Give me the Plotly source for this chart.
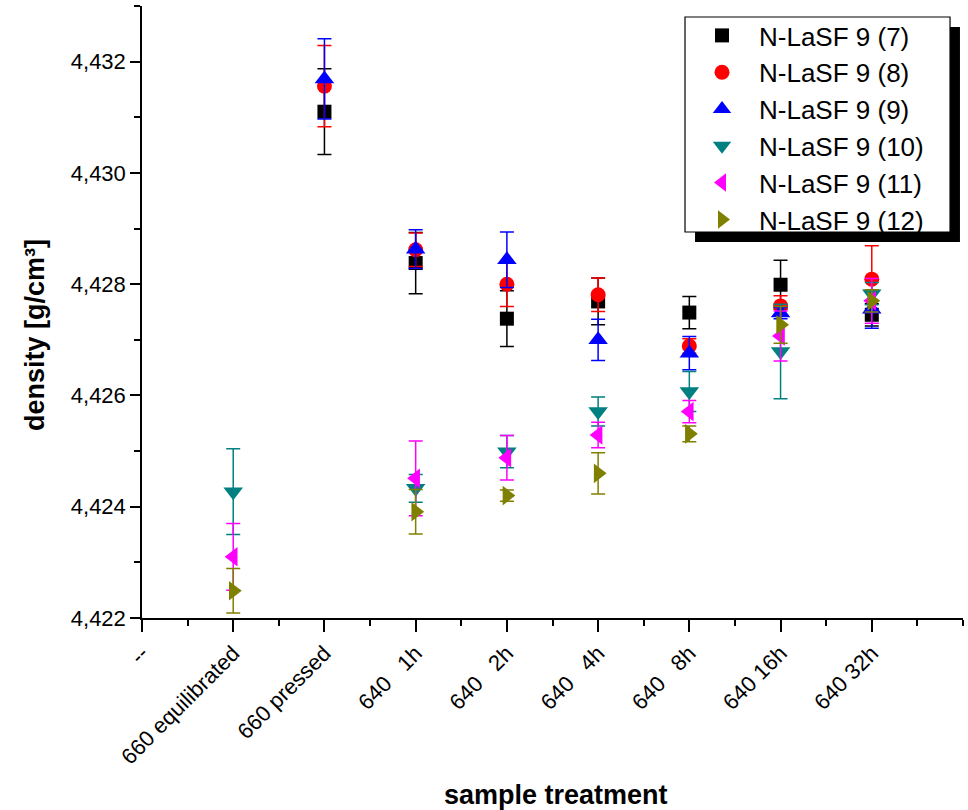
import plotly.graph_objects as go

categories = ["--", "660 equilibrated", "660 pressed", "640\u00a0\u00a0\u00a01h", "640\u00a0\u00a0\u00a02h",
              "640\u00a0\u00a0\u00a04h", "640\u00a0\u00a0\u00a08h", "640 16h", "640 32h"]
x_pos = [1, 2, 3, 4, 5, 6, 7, 8]

names = ["N-LaSF 9 (7)", "N-LaSF 9 (8)", "N-LaSF 9 (9)", "N-LaSF 9 (10)", "N-LaSF 9 (11)", "N-LaSF 9 (12)"]

s7 = [None, 4.43110, 4.42838, 4.42738, 4.42769, 4.42749, 4.42799, 4.42745]
e7 = [None, 0.00077, 0.00055, 0.00050, 0.00042, 0.00029, 0.00044, 0.00020]
s8 = [None, 4.43156, 4.42862, 4.42800, 4.42781, 4.42689, 4.42761, 4.42809]
e8 = [None, 0.00073, 0.00030, 0.00040, 0.00030, 0.00013, 0.00018, 0.00060]
s9 = [None, 4.43169, 4.42863, 4.42844, 4.42700, 4.42676, 4.42748, 4.42755]
e9 = [None, 0.00072, 0.00035, 0.00050, 0.00037, 0.00030, 0.00010, 0.00034]
s10 = [4.42427, None, 4.42433, 4.42499, 4.42571, 4.42607, 4.42679, 4.42783]
e10 = [0.00077, None, 0.00025, 0.00029, 0.00026, 0.00036, 0.00085, 0.00020]
s11 = [4.42310, None, 4.42451, 4.42488, 4.42529, 4.42571, 4.42707, 4.42770]
e11 = [0.00060, None, 0.00067, 0.00040, 0.00023, 0.00020, 0.00045, 0.00040]
s12 = [4.42249, None, 4.42391, 4.42420, 4.42460, 4.42531, 4.42727, 4.42770]
e12 = [0.00040, None, 0.00040, 0.00010, 0.00037, 0.00014, 0.00033, 0.00020]

series = [s7, s8, s9, s10, s11, s12]
errors = [e7, e8, e9, e10, e11, e12]
colors = ["#000000", "#FF0000", "#0000FF", "#008080", "#FF00FF", "#808000"]
symbols = ["square", "circle", "triangle-up", "triangle-down", "triangle-left", "triangle-right"]
sizes = [14, 15, 17, 17, 17, 17]

FONT = "Arial, Liberation Sans, sans-serif"

fig = go.Figure()
for nm, ys, es, c, sym, sz in zip(names, series, errors, colors, symbols, sizes):
    fig.add_trace(go.Scatter(
        x=x_pos, y=ys, name=nm, mode="markers",
        marker=dict(symbol=sym, size=sz, color=c, line=dict(width=0)),
        error_y=dict(type="data", array=es, visible=True, color=c, thickness=1.5, width=7),
    ))

# legend shadow and frame
fig.add_shape(type="rect", xref="paper", yref="paper",
              x0=0.6736, x1=0.9963, y0=0.6144, y1=0.9657,
              fillcolor="black", line=dict(width=0), layer="above")
fig.add_shape(type="rect", xref="paper", yref="paper",
              x0=0.6614, x1=0.9842, y0=0.6307, y1=0.9820,
              fillcolor="white", line=dict(width=1.2, color="black"), layer="above")

fig.add_annotation(text="<b>density [g/cm³]</b>", xref="paper", yref="paper",
                   x=-0.1303, y=0.4624, textangle=-90, showarrow=False,
                   xanchor="center", yanchor="middle", font=dict(size=27, family=FONT))
fig.add_annotation(text="<b>sample treatment</b>", xref="paper", yref="paper",
                   x=0.5043, y=-0.289, showarrow=False,
                   xanchor="center", yanchor="middle", font=dict(size=27, family=FONT))

fig.update_layout(
    width=968, height=810,
    margin=dict(l=142, r=5, t=6, b=192),
    plot_bgcolor="white", paper_bgcolor="white",
    separators=", ",
    font=dict(family=FONT, size=22, color="black"),
    showlegend=True,
    legend=dict(x=0.6614, y=0.9902, xanchor="left", yanchor="top",
                bgcolor="rgba(0,0,0,0)", borderwidth=0,
                font=dict(size=26, family=FONT), itemwidth=64,
                tracegroupgap=0),
    xaxis=dict(range=[0, 9], tickmode="array", tickvals=list(range(9)), ticktext=categories,
               tickangle=-45, showline=True, linecolor="black", linewidth=1.5,
               ticks="outside", ticklen=12, tickwidth=1.5, tickcolor="black",
               minor=dict(dtick=0.5, tick0=0, ticks="outside", ticklen=6, tickwidth=1.5, tickcolor="black"),
               showgrid=False, zeroline=False, mirror=False, automargin=False,
               tickfont=dict(size=22, family=FONT)),
    yaxis=dict(range=[4.422, 4.433], tickmode="linear", tick0=4.422, dtick=0.002, tickformat=".3f",
               showline=True, linecolor="black", linewidth=1.5,
               ticks="outside", ticklen=10, tickwidth=1.5, tickcolor="black",
               minor=dict(dtick=0.001, ticks="outside", ticklen=6, tickwidth=1.5, tickcolor="black"),
               showgrid=False, zeroline=False, automargin=False,
               tickfont=dict(size=22, family=FONT)),
)

fig.write_html("out.html", config={"displayModeBar": False},
               post_script="document.body.style.margin='0';")
